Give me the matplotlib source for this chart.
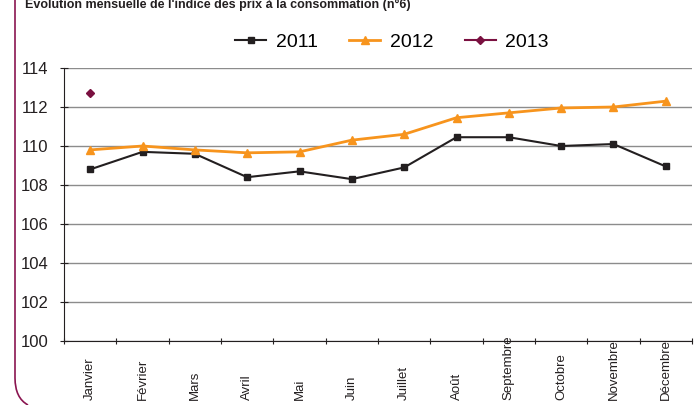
import matplotlib.pyplot as plt
from matplotlib.path import Path
from matplotlib.patches import PathPatch
from matplotlib.transforms import blended_transform_factory

# données
mois = ['Janvier', 'Février', 'Mars', 'Avril', 'Mai', 'Juin', 'Juillet',
        'Août', 'Septembre', 'Octobre', 'Novembre', 'Décembre']
ipc_2011 = [108.8, 109.7, 109.6, 108.4, 108.7, 108.3, 108.9,
            110.45, 110.45, 110.0, 110.1, 108.95]
ipc_2012 = [109.8, 110.0, 109.8, 109.65, 109.7, 110.3, 110.6,
            111.45, 111.7, 111.95, 112.0, 112.3]
ipc_2013 = [112.7]
titre = "Évolution mensuelle de l'indice des prix à la consommation (n°6)"

plt.rcParams['font.family'] = ['Liberation Sans', 'DejaVu Sans']

fig = plt.figure(figsize=(6.94, 4.05), dpi=100)
ax = fig.add_axes([64 / 694, 1 - 341 / 405, 628 / 694, 273 / 405])

x = range(len(mois))
ax.plot(x, ipc_2011, color='#231f20', lw=1.5, marker='s', ms=5, label='2011', zorder=3)
ax.plot(x, ipc_2012, color='#f7941d', lw=2, marker='^', ms=6, label='2012', zorder=3)
ax.plot(range(len(ipc_2013)), ipc_2013, color='#7a1040', lw=1.5, marker='D', ms=4,
        label='2013', zorder=3)

# axes
ax.set_xlim(-0.5, len(mois) - 0.5)
ax.set_ylim(100, 114)
ax.set_yticks(range(100, 115, 2))
ax.set_xticks([i - 0.5 for i in range(len(mois) + 1)])
ax.set_xticklabels([])
ax.yaxis.grid(True, color='#8c8c8c', lw=1)
ax.set_axisbelow(True)
for s in ['top', 'right']:
    ax.spines[s].set_visible(False)
ax.spines['left'].set_color('#231f20')
ax.spines['bottom'].set_color('#231f20')
ax.tick_params(axis='y', direction='inout', length=6, labelsize=12, colors='#231f20', pad=8)
ax.tick_params(axis='x', direction='inout', length=5, colors='#231f20')

# libellés des mois, alignés en bas
trans = blended_transform_factory(ax.transData, fig.transFigure)
for i, m in enumerate(mois):
    ax.text(i, 5 / 405, m, transform=trans, rotation=90, ha='center', va='bottom',
            fontsize=9.5, color='#231f20')

# légende
fig.legend(loc='center', bbox_to_anchor=(392 / 694, 1 - 42 / 405), ncol=3, frameon=False,
           fontsize=14, handlelength=1.6, handletextpad=0.5, columnspacing=1.6)

# titre (coupé en haut)
fig.text(25 / 694, 1 - 4 / 405, titre, fontsize=9, fontweight='bold', ha='left',
         va='center', color='#231f20')

# cadre à gauche
x0, x1 = 15 / 694, 28 / 694
verts = [(x0, 1.0), (x0, 1 - 378 / 405), (x0, 1 - 398 / 405), (x1, 0.0)]
codes = [Path.MOVETO, Path.LINETO, Path.CURVE3, Path.CURVE3]
fig.patches.append(PathPatch(Path(verts, codes), transform=fig.transFigure,
                             fill=False, edgecolor='#8a1550', lw=1.2))

fig.savefig('out.png', dpi=100)
